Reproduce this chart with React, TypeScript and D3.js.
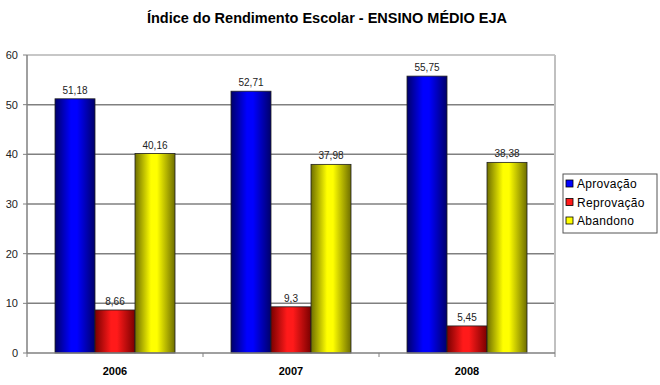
import React from "react";
import * as d3 from "d3";

const years = ["2006", "2007", "2008"];
const seriesNames = ["Aprovação", "Reprovação", "Abandono"];
const aprovacao = [51.18, 52.71, 55.75];
const reprovacao = [8.66, 9.3, 5.45];
const abandono = [40.16, 37.98, 38.38];
const yTicks = [0, 10, 20, 30, 40, 50, 60];

const palette = [
  { id: "gBlue", dark: "#00006a", mid: "#0000ff", edge: "#000080" },
  { id: "gRed", dark: "#7a0000", mid: "#ff1a1a", edge: "#800000" },
  { id: "gYellow", dark: "#6e6e00", mid: "#ffff00", edge: "#808000" },
];

const App = () => {
  const width = 660;
  const height = 385;
  const left = 27;
  const right = 555;
  const top = 55;
  const bottom = 353;

  const values = [aprovacao, reprovacao, abandono];

  const x = d3.scaleBand().domain(years).range([left, right]).paddingInner(0).paddingOuter(0);
  const x1 = d3
    .scaleBand()
    .domain(seriesNames)
    .range([0, x.bandwidth()])
    .paddingOuter(0.7)
    .paddingInner(0);
  const y = d3.scaleLinear().domain([0, 60]).range([bottom, top]);
  const fmt = (v: number) => String(v).replace(".", ",");

  return (
    <svg width={width} height={height} style={{ position: "absolute", left: 0, top: 0, background: "#fff" }}>
      <defs>
        {palette.map((p) => (
          <linearGradient key={p.id} id={p.id} x1="0" x2="1" y1="0" y2="0">
            <stop offset="0%" stopColor={p.dark} />
            <stop offset="40%" stopColor={p.mid} />
            <stop offset="55%" stopColor={p.mid} />
            <stop offset="100%" stopColor={p.dark} />
          </linearGradient>
        ))}
      </defs>
      <rect width={width} height={height} fill="#fff" />

      <text
        x={327}
        y={23}
        textAnchor="middle"
        fontFamily="Liberation Sans, Arial, sans-serif"
        fontWeight="bold"
        fontSize={14.5}
        fill="#000"
      >
        Índice do Rendimento Escolar - ENSINO MÉDIO EJA
      </text>

      {/* grid */}
      {yTicks.filter((t) => t > 0).map((t) => (
        <line key={t} x1={left} x2={right} y1={y(t)} y2={y(t)} stroke={t === 60 ? "#b4b4b4" : "#808080"} strokeWidth={1.5} />
      ))}
      <line x1={right} x2={right} y1={top} y2={bottom} stroke="#c0c0c0" strokeWidth={2} />

      {/* bars */}
      {years.map((yr, i) => (
        <g key={yr} transform={`translate(${x(yr)},0)`}>
          {seriesNames.map((s, j) => {
            const v = values[j][i];
            const bx = x1(s) as number;
            return (
              <g key={s}>
                <rect
                  x={bx}
                  y={y(v)}
                  width={x1.bandwidth()}
                  height={y(0) - y(v)}
                  fill={`url(#${palette[j].id})`}
                  stroke="#202020"
                  strokeWidth={0.8}
                />
                <text
                  x={bx + x1.bandwidth() / 2}
                  y={y(v) - 5}
                  textAnchor="middle"
                  fontFamily="Liberation Sans, Arial, sans-serif"
                  fontSize={10}
                  fill="#222"
                >
                  {fmt(v)}
                </text>
              </g>
            );
          })}
        </g>
      ))}

      {/* axes */}
      <line x1={left} x2={left} y1={top} y2={bottom} stroke="#808080" strokeWidth={1.5} />
      <line x1={left} x2={right} y1={bottom} y2={bottom} stroke="#808080" strokeWidth={1.5} />
      {yTicks.map((t) => (
        <g key={t}>
          <line x1={left - 4} x2={left} y1={y(t)} y2={y(t)} stroke="#808080" />
          <text
            x={18}
            y={y(t) + 4}
            textAnchor="end"
            fontFamily="Liberation Sans, Arial, sans-serif"
            fontSize={11}
            fill="#222"
          >
            {t}
          </text>
        </g>
      ))}
      {[...years.map((yr) => x(yr) as number), right].map((px, i) => (
        <line key={i} x1={px} x2={px} y1={bottom} y2={bottom + 4} stroke="#808080" />
      ))}
      {years.map((yr) => (
        <text
          key={yr}
          x={(x(yr) as number) + x.bandwidth() / 2}
          y={375}
          textAnchor="middle"
          fontFamily="Liberation Sans, Arial, sans-serif"
          fontWeight="bold"
          fontSize={11}
          fill="#000"
        >
          {yr}
        </text>
      ))}

      {/* legend */}
      <rect x={563} y={174} width={94} height={59} fill="#fff" stroke="#555" strokeWidth={1} />
      {seriesNames.map((s, j) => (
        <g key={s} transform={`translate(566,${179 + j * 18.5})`}>
          <rect x={0} y={1} width={7} height={7} fill={palette[j].mid} stroke="#000" strokeWidth={0.8} />
          <text
            x={11}
            y={9}
            fontFamily="Liberation Sans, Arial, sans-serif"
            fontSize={12}
            letterSpacing={0.3}
            fill="#000"
          >
            {s}
          </text>
        </g>
      ))}
    </svg>
  );
};

export default App;
